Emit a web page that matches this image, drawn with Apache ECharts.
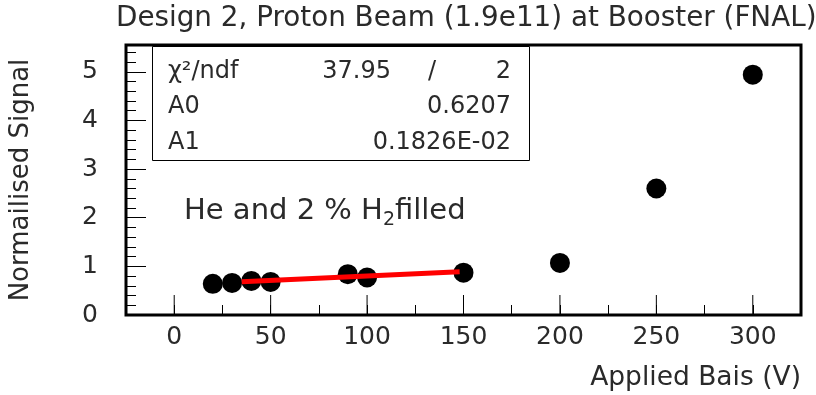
<!DOCTYPE html>
<html>
<head>
<meta charset="utf-8">
<script src="https://cdn.jsdelivr.net/npm/echarts@6/dist/echarts.min.js"></script>
<style>
html,body{margin:0;padding:0;background:#fff;}
#chart{width:816px;height:395px;}
</style>
</head>
<body>
<div id="chart"></div>
<script>
// Data
const biasV = [20, 30, 40, 50, 90, 100, 150, 200, 250, 300];
const signal = [0.64, 0.66, 0.70, 0.68, 0.84, 0.77, 0.87, 1.07, 2.60, 4.94];
const fitX = [35, 148];
const fitY = [0.685, 0.891];
const majorXTicks = [0, 50, 100, 150, 200, 250, 300];
const titleText = 'Design 2, Proton Beam (1.9e11) at Booster (FNAL)';
const statsRows = [
  ['χ²/ndf', '37.95', '/', '2'],
  ['A0', '', '', '0.6207'],
  ['A1', '', '', '0.1826E-02']
];

const FONT = 'DejaVu Sans';
const TXT = '#2a2a2a';

const chart = echarts.init(document.getElementById('chart'), null, {renderer: 'canvas'});

const graphics = [
  {type: 'rect', z: 50, shape: {x: 152.5, y: 46.5, width: 377, height: 114},
   style: {fill: '#fff', stroke: '#000', lineWidth: 1}},
  {type: 'text', z: 51, x: 184, y: 211,
   style: {
     text: '{n|He and 2 % H}{s|2}{n|filled}',
     verticalAlign: 'middle',
     rich: {
       n: {fontSize: 29, fontFamily: FONT, fill: TXT, lineHeight: 37},
       s: {fontSize: 19, fontFamily: FONT, fill: TXT, verticalAlign: 'bottom', lineHeight: 37}
     }
   }}
];
const rowY = [72, 107, 143];
statsRows.forEach((r, i) => {
  graphics.push({type: 'text', z: 51, x: 168, y: rowY[i],
    style: {text: r[0], fontSize: 24, fontFamily: FONT, fill: TXT, verticalAlign: 'middle', align: 'left'}});
  if (r[1]) graphics.push({type: 'text', z: 51, x: 391, y: rowY[i],
    style: {text: r[1], fontSize: 24, fontFamily: FONT, fill: TXT, verticalAlign: 'middle', align: 'right'}});
  if (r[2]) graphics.push({type: 'text', z: 51, x: 432, y: rowY[i],
    style: {text: r[2], fontSize: 24, fontFamily: FONT, fill: TXT, verticalAlign: 'middle', align: 'center'}});
  graphics.push({type: 'text', z: 51, x: 511, y: rowY[i],
    style: {text: r[3], fontSize: 24, fontFamily: FONT, fill: TXT, verticalAlign: 'middle', align: 'right'}});
});

const option = {
  animation: false,
  backgroundColor: '#fff',
  title: {
    text: titleText,
    left: 111, top: 0,
    textStyle: {fontSize: 27.8, fontWeight: 'normal', fontFamily: FONT, color: TXT}
  },
  grid: {left: 125, top: 45, right: 15, bottom: 80, show: true, borderColor: '#000', borderWidth: 3},
  xAxis: {
    type: 'value', min: -25, max: 325, interval: 25,
    axisLine: {show: false, onZero: false},
    splitLine: {show: false},
    axisTick: {inside: true, length: 10, lineStyle: {color: '#000', width: 1}},
    axisLabel: {formatter: v => (v % 50 === 0 ? String(v) : ''), fontSize: 25, fontFamily: FONT, color: TXT, margin: 10},
    name: 'Applied Bais (V)', nameLocation: 'end', nameGap: 0,
    nameTextStyle: {align: 'right', verticalAlign: 'top', padding: [50, 0, 0, 0], fontSize: 26.5, fontFamily: FONT, color: TXT}
  },
  yAxis: {
    type: 'value', min: 0, max: 5.55, interval: 1,
    axisLine: {show: false, onZero: false},
    splitLine: {show: false},
    axisTick: {inside: true, length: 20, lineStyle: {color: '#000', width: 1}},
    minorTick: {show: true, splitNumber: 5, length: 10, lineStyle: {color: '#000', width: 1}},
    axisLabel: {formatter: v => (Number.isInteger(v) ? String(v) : ''), fontSize: 25, fontFamily: FONT, color: TXT, margin: 28},
    name: 'Normailised Signal', nameLocation: 'middle', nameGap: 92, nameRotate: 90,
    nameTextStyle: {fontSize: 26, fontFamily: FONT, color: TXT}
  },
  graphic: graphics,
  series: [
    {
      type: 'custom',
      silent: true,
      z: 3,
      data: majorXTicks.map(v => [v, 0]),
      renderItem: (params, api) => {
        const p = api.coord([api.value(0), api.value(1)]);
        return {type: 'line', shape: {x1: p[0], y1: p[1], x2: p[0], y2: p[1] - 20},
          style: {stroke: '#000', lineWidth: 1}};
      }
    },
    {
      type: 'scatter',
      z: 5,
      symbol: 'circle',
      symbolSize: 20,
      itemStyle: {color: '#000', opacity: 1},
      data: biasV.map((x, i) => [x, signal[i]])
    },
    {
      type: 'line',
      z: 6,
      showSymbol: false,
      symbol: 'none',
      lineStyle: {color: '#ff0000', width: 5},
      data: fitX.map((x, i) => [x, fitY[i]])
    }
  ]
};
chart.setOption(option);
</script>
</body>
</html>
